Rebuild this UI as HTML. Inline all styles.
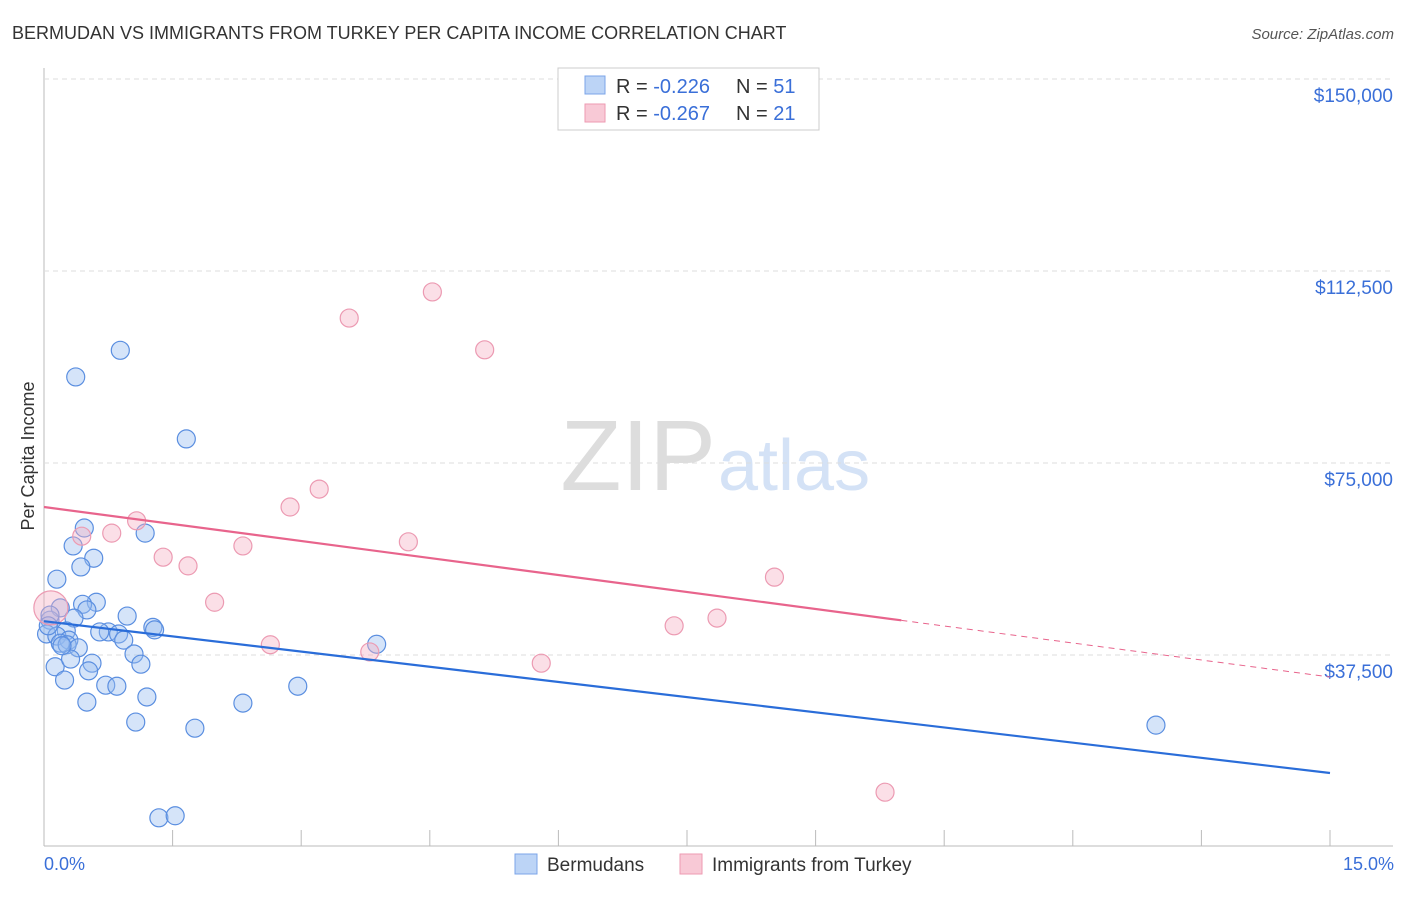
<!DOCTYPE html>
<html><head><meta charset="utf-8"><style>
body{margin:0;background:#fff;font-family:"Liberation Sans",sans-serif;}
svg text{font-family:"Liberation Sans",sans-serif;}
</style></head><body>
<svg id="c" width="1406" height="892">
<text x="12" y="39" font-size="18" fill="#333">BERMUDAN VS IMMIGRANTS FROM TURKEY PER CAPITA INCOME CORRELATION CHART</text>
<text x="1394" y="39" font-size="15" fill="#555" font-style="italic" text-anchor="end">Source: ZipAtlas.com</text>
<text x="716" y="490" font-size="100" fill="#ddd" font-family="Liberation Serif" text-anchor="end">ZIP</text>
<text x="718" y="490" font-size="72" fill="#d4e2f6">atlas</text>
<text transform="translate(34,456) rotate(-90)" font-size="18" fill="#333" text-anchor="middle">Per Capita Income</text>
<g id="grid"></g><g id="pts"></g><g id="lines"></g>
<g>
<rect x="558" y="68" width="261" height="62" fill="#fff" stroke="#ccc"/>
<rect x="585" y="76" width="20" height="18" fill="#bcd4f6" stroke="#7ba4e8"/>
<rect x="585" y="104" width="20" height="18" fill="#f8c9d6" stroke="#ee9ab2"/>
<text x="616" y="93" font-size="20" fill="#333">R = <tspan fill="#3a6fd8">-0.226</tspan></text>
<text x="736" y="93" font-size="20" fill="#333">N = <tspan fill="#3a6fd8">51</tspan></text>
<text x="616" y="120" font-size="20" fill="#333">R = <tspan fill="#3a6fd8">-0.267</tspan></text>
<text x="736" y="120" font-size="20" fill="#333">N = <tspan fill="#3a6fd8">21</tspan></text>
</g>
<g>
<rect x="515" y="854" width="22" height="20" fill="#bcd4f6" stroke="#7ba4e8"/>
<text x="547" y="871" font-size="19" fill="#333">Bermudans</text>
<rect x="680" y="854" width="22" height="20" fill="#f8c9d6" stroke="#ee9ab2"/>
<text x="712" y="871" font-size="19" fill="#333">Immigrants from Turkey</text>
</g>
<text x="44" y="870" font-size="18" fill="#3a6fd8">0.0%</text>
<text x="1394" y="870" font-size="18" fill="#3a6fd8" text-anchor="end">15.0%</text>
</svg>
<script>
const yTicks=[37500,75000,112500,150000];
const yTickLabels=["$37,500","$75,000","$112,500","$150,000"];
const blueX=[0.89,0.37,1.66,0.47,1.18,0.34,0.58,0.43,0.15,0.61,0.45,0.19,0.50,0.97,0.35,0.07,1.27,1.29,0.26,0.75,0.87,0.03,0.15,0.29,0.93,0.19,3.88,0.27,0.40,1.05,0.13,0.56,1.13,0.52,0.31,0.24,0.72,0.85,2.96,1.20,0.50,2.32,1.07,1.76,12.97,1.34,1.53,0.07,0.05,0.21,0.65];
const blueY=[97000,91800,79700,62300,61300,58800,56400,54700,52300,47800,47400,46700,46300,45100,44700,44300,42900,42400,42200,42000,41600,41600,41200,40400,40400,39800,39600,39500,38900,37700,35200,35900,35700,34400,36700,32600,31600,31400,31400,29300,28300,28100,24400,23200,23800,5700,6100,45300,43200,39300,42000];
const pinkX=[4.53,3.56,5.14,3.21,2.87,1.08,0.44,0.79,2.32,4.25,1.39,1.68,8.52,1.99,0.08,7.85,7.35,2.64,3.80,5.80,9.81];
const pinkY=[108400,103300,97100,69900,66400,63700,60700,61300,58800,59600,56600,54900,52700,47800,46700,44700,43200,39500,38100,35900,10700];
const blueTrend=[44100,14450];
const pinkTrend=[66400,33200];
const pinkSolidEnd=10;
const NS='http://www.w3.org/2000/svg';
const sx=v=>44+v/15*1286;
const sy=v=>847-v/195.3;
function mk(tag,attrs,parent){const e=document.createElementNS(NS,tag);for(const k in attrs)e.setAttribute(k,attrs[k]);parent.appendChild(e);return e;}
const grid=document.getElementById('grid');
const ax1=mk('line',{x1:44,y1:68,x2:44,y2:846,stroke:'#bbb'},grid);


const ax2=mk('line',{x1:44,y1:846,x2:1393,y2:846,stroke:'#bbb'},grid);


for(let i=1;i<=10;i++){const t=mk('line',{x1:sx(i*1.5),y1:830,x2:sx(i*1.5),y2:846,stroke:'#bbb'},grid);

}
yTicks.forEach((v,i)=>{const g=mk('line',{x1:44,y1:sy(v),x2:1393,y2:sy(v),stroke:'#ddd','stroke-dasharray':'5,4'},grid);


const t=mk('text',{x:1393,y:sy(v)+23,'font-size':19,fill:'#3a6fd8','text-anchor':'end'},grid);t.textContent=yTickLabels[i];

});
const pts=document.getElementById('pts');
blueX.forEach((x,i)=>{const c=mk('circle',{cx:sx(x),cy:sy(blueY[i]),r:9,fill:'rgba(150,188,240,0.4)',stroke:'#5a8ee0','stroke-width':1.2},pts);

});
pinkX.forEach((x,i)=>{const c=mk('circle',{cx:sx(x),cy:sy(pinkY[i]),r:i==14?17:9,fill:'rgba(245,175,195,0.4)',stroke:'#ec9ab2','stroke-width':1.2},pts);

});
const L=document.getElementById('lines');
const bl=mk('line',{x1:sx(0),y1:sy(blueTrend[0]),x2:sx(15),y2:sy(blueTrend[1]),stroke:'#2a6dd9','stroke-width':2.2},L);


const pe=pinkTrend[0]+(pinkTrend[1]-pinkTrend[0])*pinkSolidEnd/15;
const pl=mk('line',{x1:sx(0),y1:sy(pinkTrend[0]),x2:sx(pinkSolidEnd),y2:sy(pe),stroke:'#e8648c','stroke-width':2.2},L);


const pd=mk('line',{x1:sx(pinkSolidEnd),y1:sy(pe),x2:sx(15),y2:sy(pinkTrend[1]),stroke:'#e8648c','stroke-width':1,'stroke-dasharray':'6,5'},L);


</script>
</body></html>
